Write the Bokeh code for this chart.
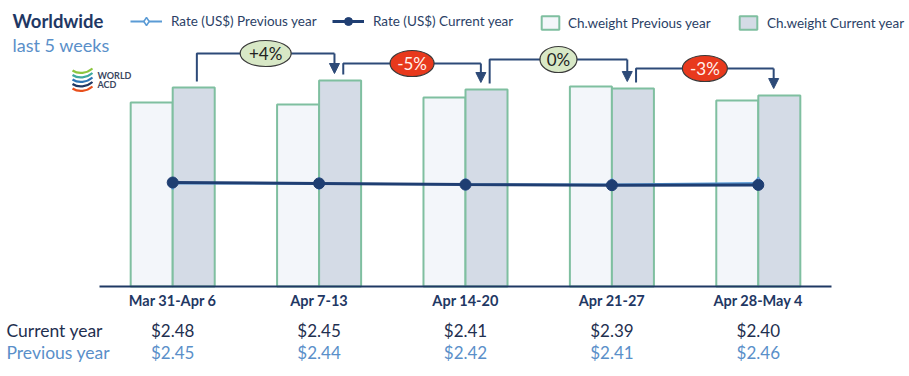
from bokeh.plotting import figure
from bokeh.models import (Range1d, ColumnDataSource, Label, LabelSet,
                          Legend, LegendItem, Arrow, NormalHead)
from bokeh.core.properties import value
from bokeh.embed import file_html
from bokeh.resources import INLINE

# ---------------- data ----------------
weeks = ["Mar 31-Apr 6", "Apr 7-13", "Apr 14-20", "Apr 21-27", "Apr 28-May 4"]
rate_current = [2.48, 2.45, 2.41, 2.39, 2.40]
rate_previous = [2.45, 2.44, 2.42, 2.41, 2.46]
chw_previous = [184, 182, 189, 200, 186]
chw_current = [199, 206, 197, 198, 191]
change_labels = ["+4%", "-5%", "0%", "-3%"]
series_names = ["Rate (US$) Previous year", "Rate (US$) Current year",
                "Ch.weight Previous year", "Ch.weight Current year"]
row_names = ["Current year", "Previous year"]

# ---------------- styles ----------------
NAVY = "#1f3864"
LINE_CUR = "#1f3e72"
LINE_PREV = "#5b9bd5"
TXT_PREV = "#5a8fc9"
BAR_EDGE = "#7fbfa0"
FILL_PREV = "#f3f6fa"
FILL_CUR = "#d4dbe6"
FONT = "Lato"

W, H = 909, 376
LEFT, RIGHT, BASE = 99, 831, 286          # plot-area edges in page pixels
PX_PER_CAT = (RIGHT - LEFT) / len(weeks)


def px2x(px):
    return (px - LEFT) / PX_PER_CAT


def py2y(py):
    return BASE - py


p = figure(width=W, height=H, x_range=Range1d(px2x(0), px2x(W)),
           y_range=Range1d(py2y(H), py2y(0)), output_backend="svg", toolbar_location=None,
           min_border=0)
p.extra_y_ranges = {"rate": Range1d(-3.99, 8.55)}
p.outline_line_color = None
p.grid.visible = False
p.axis.visible = False
p.background_fill_color = "white"
p.border_fill_color = "white"

xc = [i + 0.5 for i in range(len(weeks))]
bw = 0.287
src = ColumnDataSource(dict(week=weeks, xc=xc,
                            xp=[x - bw / 2 for x in xc], xq=[x + bw / 2 for x in xc],
                            prev=chw_previous, cur=chw_current,
                            rprev=rate_previous, rcur=rate_current,
                            tcur=["$%.2f" % v for v in rate_current],
                            tprev=["$%.2f" % v for v in rate_previous]))

# ---------------- bars ----------------
b_prev = p.vbar(x="xp", top="prev", bottom=0, width=bw, source=src,
                fill_color=FILL_PREV, line_color=BAR_EDGE, line_width=2)
b_cur = p.vbar(x="xq", top="cur", bottom=0, width=bw, source=src,
               fill_color=FILL_CUR, line_color=BAR_EDGE, line_width=2)

# category axis line + labels
p.segment(x0=[0], y0=[0], x1=[len(weeks)], y1=[0], line_color=NAVY, line_width=2)
p.add_layout(LabelSet(x="xc", y=py2y(300), text="week", source=src, text_align="center",
                      text_baseline="middle", text_font=value(FONT),
                      text_font_style="bold", text_font_size="14.5px", text_color=NAVY))

# ---------------- rate lines ----------------
l_prev = p.line(x="xc", y="rprev", source=src, y_range_name="rate",
                line_color=LINE_PREV, line_width=2)
m_prev = p.scatter(x="xc", y="rprev", source=src, y_range_name="rate", marker="diamond",
                   size=12, fill_color="white", line_color=LINE_PREV, line_width=1.5)
l_cur = p.line(x="xc", y="rcur", source=src, y_range_name="rate",
               line_color=LINE_CUR, line_width=3)
m_cur = p.scatter(x="xc", y="rcur", source=src, y_range_name="rate", marker="circle",
                  size=11, fill_color=LINE_CUR, line_color=LINE_CUR)

# ---------------- week-over-week connectors ----------------
start_off, tip_off = 0.165, 0.105
level_gap = [27, 17, 29, 20]
bubble_w = [51, 44, 37, 45]
xs, ys, ax, ay0, ay1, mx, my, fills, tcols = [], [], [], [], [], [], [], [], []
for i in range(len(weeks) - 1):
    x0 = xc[i] + start_off
    x1 = xc[i + 1] + tip_off
    lvl = max(chw_current[i], chw_current[i + 1]) + level_gap[i]
    xs.append([x0, x0, x1])
    ys.append([chw_current[i] + 6, lvl, lvl])
    ax.append(x1)
    ay0.append(lvl)
    ay1.append(chw_current[i + 1] + 7)
    mx.append((x0 + x1) / 2)
    my.append(lvl)
    neg = change_labels[i].startswith("-")
    fills.append("#e8391d" if neg else "#d8e8c6")
    tcols.append("#fff3ee" if neg else "#222222")

p.multi_line(xs=xs, ys=ys, line_color="#2d4a78", line_width=2)
p.add_layout(Arrow(end=NormalHead(size=10, fill_color="#2d4a78", line_color="#2d4a78"),
                   source=ColumnDataSource(dict(x=ax, y0=ay0, y1=ay1)),
                   x_start="x", y_start="y0", x_end="x", y_end="y1",
                   line_color="#2d4a78", line_width=2))
p.ellipse(x=mx, y=my, width=bubble_w, height=26, width_units="screen", height_units="screen",
          fill_color=fills, line_color="#3a3a3a", line_width=1.2)
p.text(x=mx, y=my, text=change_labels, text_align="center", text_baseline="middle",
       text_font=value(FONT), text_font_size="17px", text_color=tcols)

# ---------------- legends ----------------
def add_leg(item_label, renderers, x_px, gw, gh, standoff):
    leg = Legend(items=[LegendItem(label=item_label, renderers=renderers)],
                 location=(x_px, H - 31), orientation="horizontal",
                 padding=0, margin=0, spacing=0, border_line_color=None,
                 background_fill_alpha=0, glyph_width=gw, glyph_height=gh,
                 label_standoff=standoff, label_text_font=FONT,
                 label_text_font_size="13.5px", label_text_color="#2b3f66")
    p.add_layout(leg)

add_leg(series_names[0], [l_prev, m_prev], 130, 32, 20, 9)
add_leg(series_names[1], [l_cur, m_cur], 332, 32, 20, 9)
add_leg(series_names[2], [b_prev], 539, 22, 17, 7)
add_leg(series_names[3], [b_cur], 737, 22, 17, 8)

# ---------------- titles / logo ----------------
p.add_layout(Label(x=px2x(12), y=py2y(20), text="Worldwide", text_font=FONT,
                   text_font_style="bold", text_font_size="18.5px", text_color=NAVY,
                   text_baseline="middle"))
p.add_layout(Label(x=px2x(12), y=py2y(44), text="last 5 weeks", text_font=FONT,
                   text_font_size="18px", text_color=TXT_PREV, text_baseline="middle"))
p.add_layout(Label(x=px2x(97), y=py2y(75), text="WORLD", text_font=FONT,
                   text_font_style="bold", text_font_size="9px", text_color="#3a4660",
                   text_baseline="middle"))
p.add_layout(Label(x=px2x(97), y=py2y(84), text="ACD", text_font=FONT,
                   text_font_style="bold", text_font_size="9px", text_color="#3a4660",
                   text_baseline="middle"))
logo_cols = ["#8cc63f", "#3fa9a0", "#2e75b6", "#1f3864", "#e8501d"]
for k, c in enumerate(logo_cols):
    yk = py2y(70 + k * 4.5)
    p.bezier(x0=px2x(72), y0=yk, x1=px2x(92), y1=yk + 2, cx0=px2x(78), cy0=yk - 4,
             cx1=px2x(86), cy1=yk - 3, line_color=c, line_width=2.2)

# ---------------- rate table ----------------
y_cur_row, y_prev_row = py2y(330), py2y(352)
p.add_layout(Label(x=px2x(6), y=y_cur_row, text=row_names[0], text_font=FONT,
                   text_font_size="17.5px", text_color="#1f3050", text_baseline="middle"))
p.add_layout(Label(x=px2x(6), y=y_prev_row, text=row_names[1], text_font=FONT,
                   text_font_size="17.5px", text_color=TXT_PREV, text_baseline="middle"))
p.add_layout(LabelSet(x="xc", y=y_cur_row, text="tcur", source=src, text_align="center",
                      text_baseline="middle", text_font=value(FONT), text_font_size="17px",
                      text_color="#1f3050"))
p.add_layout(LabelSet(x="xc", y=y_prev_row, text="tprev", source=src, text_align="center",
                      text_baseline="middle", text_font=value(FONT), text_font_size="17px",
                      text_color=TXT_PREV))

open("out.html", "w").write(file_html(p, INLINE))
